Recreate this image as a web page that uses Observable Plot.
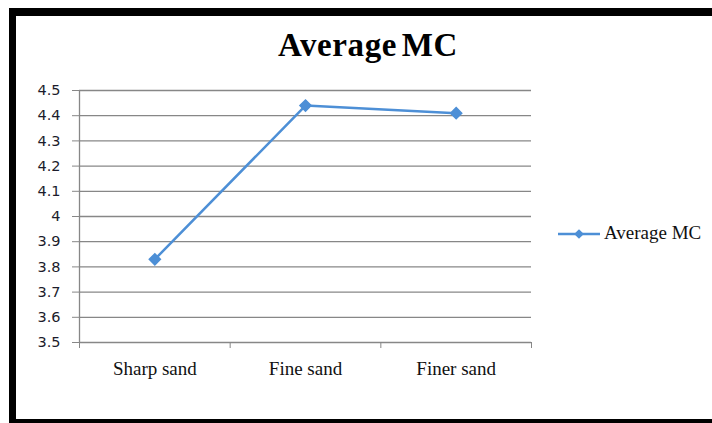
<!DOCTYPE html>
<html>
<head>
<meta charset="utf-8">
<script src="https://cdn.jsdelivr.net/npm/d3@7"></script>
<script src="https://cdn.jsdelivr.net/npm/@observablehq/plot@0.6"></script>
<style>
  html, body { margin: 0; padding: 0; background: #fff; }
  #chart { position: relative; width: 712px; height: 423px; overflow: hidden; background: #fff; }
  #chart svg.plot { position: absolute; left: 0; top: 0; }
  .bar { position: absolute; background: #000; }
  #title {
    position: absolute; left: 0; width: 736px; top: 27px; text-align: center;
    font-family: "Liberation Serif", "Times New Roman", serif; font-weight: bold;
    font-size: 33px; color: #000; letter-spacing: 0.6px; word-spacing: -4px;
  }
  #legend {
    position: absolute; left: 558px; top: 222px; display: flex; align-items: center;
    font-family: "Liberation Serif", "Times New Roman", serif; font-size: 19px; color: #111;
  }
</style>
</head>
<body>
<div id="chart">
  <div class="bar" style="left:9px;top:8px;width:720px;height:8px"></div>
  <div class="bar" style="left:9px;top:8px;width:7px;height:420px"></div>
  <div class="bar" style="left:9px;top:419px;width:720px;height:8px"></div>
  <div id="title">Average MC</div>
  <div id="legend"></div>
</div>
<script>
// Average moisture content by sand type
const categories = ["Sharp sand", "Fine sand", "Finer sand"];
const averageMC = [3.83, 4.44, 4.41];
const yTicks = [3.5, 3.6, 3.7, 3.8, 3.9, 4.0, 4.1, 4.2, 4.3, 4.4, 4.5];
const seriesName = "Average MC";

const blue = "#4d8fd6";
const gridGray = "#878787";

const rows = categories.map((c, i) => ({cat: c, pos: i + 0.5, value: averageMC[i]}));
const bounds = d3.range(categories.length + 1);
const centers = categories.map((c, i) => i + 0.5);

const plot = Plot.plot({
  width: 712,
  height: 423,
  marginLeft: 79,
  marginRight: 181,
  marginTop: 90,
  marginBottom: 81,
  x: {type: "linear", domain: [0, categories.length]},
  y: {domain: [3.5, 4.5]},
  style: {background: "transparent", overflow: "visible"},
  marks: [
    Plot.gridY(yTicks, {stroke: gridGray, strokeOpacity: 1, strokeWidth: 1.3}),
    Plot.axisY(yTicks, {
      tickSize: 7, tickPadding: 12, stroke: gridGray, strokeOpacity: 1,
      tickFormat: d => String(+d.toFixed(1)),
      fontFamily: "DejaVu Sans, Verdana, sans-serif", fontSize: 14.5, fill: "#1c1c2c", label: null
    }),
    Plot.ruleX([0], {stroke: gridGray, strokeWidth: 1.3}),
    Plot.axisX(bounds, {tickSize: 6, tickFormat: () => "", stroke: gridGray, strokeOpacity: 1, label: null}),
    Plot.axisX(centers, {
      tickSize: 0, tickPadding: 19, tickFormat: d => categories[Math.floor(d)],
      fontFamily: "Liberation Serif, Times New Roman, serif", fontSize: 19, fill: "#111", label: null
    }),
    Plot.line(rows, {x: "pos", y: "value", stroke: blue, strokeWidth: 2.5}),
    Plot.dot(rows, {x: "pos", y: "value", symbol: "diamond2", r: 5, fill: blue, stroke: blue})
  ]
});
plot.classList.add("plot");
document.getElementById("chart").appendChild(plot);

// Legend entry: line with a diamond marker, then the series name
const legend = d3.select("#legend");
const sw = legend.append("svg").attr("width", 44).attr("height", 20).style("margin-right", "2px");
sw.append("line").attr("x1", 0).attr("x2", 42).attr("y1", 11).attr("y2", 11)
  .attr("stroke", blue).attr("stroke-width", 2.5);
sw.append("path").attr("d", d3.symbol(d3.symbolDiamond2, 60)()).attr("transform", "translate(21,11)")
  .attr("fill", blue);
legend.append("span").text(seriesName);
</script>
</body>
</html>
